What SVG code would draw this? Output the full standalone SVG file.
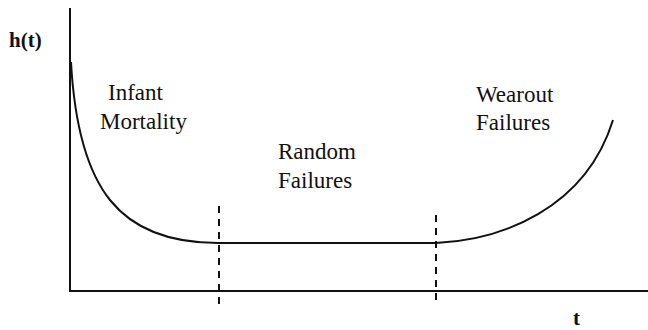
<svg xmlns="http://www.w3.org/2000/svg" width="648" height="330" viewBox="0 0 648 330">
  <style>
    .axis { stroke: #111; stroke-width: 2; fill: none; }
    .curve { stroke: #111; stroke-width: 2; fill: none; }
    .divider { stroke: #111; stroke-width: 2; stroke-dasharray: 7 6; fill: none; }
    .label { font-family: "Liberation Serif", "DejaVu Serif", serif; font-size: 23px; fill: #111; }
    .axis-label { font-family: "Liberation Serif", "DejaVu Serif", serif; font-size: 21px; font-weight: bold; fill: #111; }
  </style>
  <rect width="648" height="330" fill="#fff"/>

  <!-- axes -->
  <g id="axes">
    <line class="axis" x1="70" y1="8" x2="70" y2="292"/>
    <line class="axis" x1="69" y1="291" x2="648" y2="291"/>
    <text class="axis-label" x="9" y="47">h(t)</text>
    <text class="axis-label" x="573" y="325">t</text>
  </g>

  <!-- bathtub hazard curve and region dividers -->
  <g id="connectors">
    <path class="curve" d="M71,62 C78,190 120,243 218,243 L436,243 C500,240 585,210 613,120"/>
    <line class="divider" x1="219" y1="206" x2="219" y2="306"/>
    <line class="divider" x1="436" y1="215" x2="436" y2="306"/>
  </g>

  <g id="infant-mortality">
    <text class="label" x="108" y="100">Infant</text>
    <text class="label" x="100" y="129">Mortality</text>
  </g>

  <g id="random-failures">
    <text class="label" x="278" y="159">Random</text>
    <text class="label" x="278" y="188">Failures</text>
  </g>

  <g id="wearout-failures">
    <text class="label" x="476" y="102">Wearout</text>
    <text class="label" x="476" y="130">Failures</text>
  </g>
</svg>
